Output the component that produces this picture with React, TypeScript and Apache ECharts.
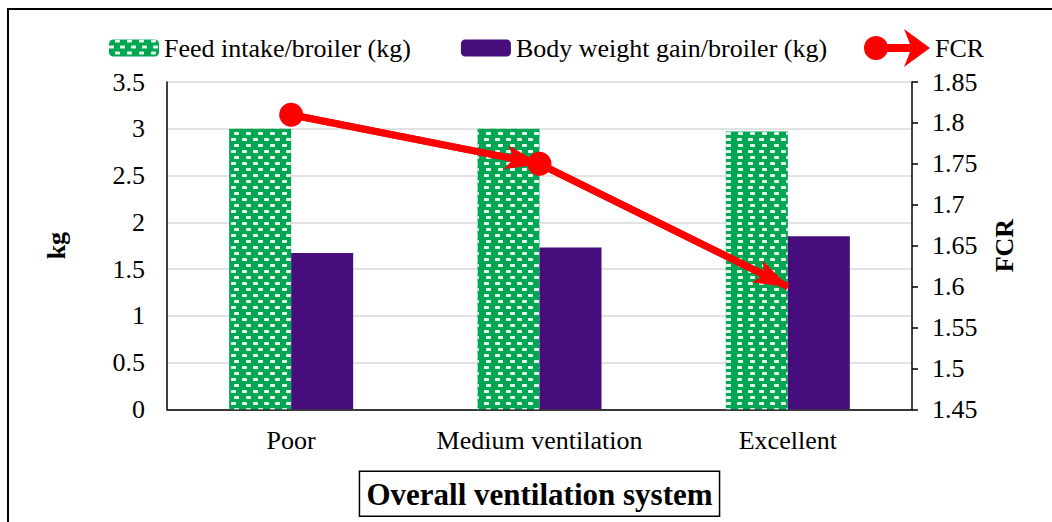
import React, { useEffect, useRef } from "react";
import * as echarts from "echarts";

const categories = ["Poor", "Medium ventilation", "Excellent"];
const feedIntake = [3.0, 3.0, 2.97];
const bodyWeightGain = [1.67, 1.73, 1.85];
const fcr = [1.81, 1.75, 1.6];

const seriesNames = ["Feed intake/broiler (kg)", "Body weight gain/broiler (kg)", "FCR"];
const axisTitles = { x: "Overall ventilation system", left: "kg", right: "FCR" };

const FONT = "Liberation Serif, Times New Roman, serif";
const RED = "#ff0000";
const GREEN = "#00a651";
const PURPLE = "#470d7d";

const arrowPath = "path://M15,0 L30,32 L15,25 L0,32 Z";
const fcrIcon =
  "path://M0,19 A12,12 0 1,1 24,19 A12,12 0 1,1 0,19 Z M12,15 L46,15 L40,0 L66,19 L40,38 L46,23 L12,23 Z";

export default function App() {
  const ref = useRef<HTMLDivElement>(null);

  useEffect(() => {
    if (!ref.current) return;
    const chart = echarts.init(ref.current, undefined, { renderer: "svg" });

    const segments = [];
    for (let i = 0; i < fcr.length - 1; i++) {
      segments.push([
        { coord: [i, fcr[i]] },
        { coord: [i + 1, fcr[i + 1]] },
      ]);
    }

    const labelStyle = { fontFamily: FONT, fontSize: 26, color: "#000" };

    chart.setOption({
      animation: false,
      backgroundColor: "#ffffff",
      textStyle: { fontFamily: FONT, color: "#000" },
      grid: { left: 167, right: 140, top: 82, bottom: 110, containLabel: false },
      legend: [
        {
          data: [seriesNames[0], seriesNames[1]],
          left: 109,
          top: 35,
          padding: 0,
          itemWidth: 50,
          itemHeight: 17,
          itemGap: 50,
          textStyle: labelStyle,
        },
        {
          data: [{ name: seriesNames[2], icon: fcrIcon }],
          left: 864,
          top: 29,
          padding: 0,
          itemWidth: 66,
          itemHeight: 38,
          textStyle: labelStyle,
        },
      ],
      xAxis: {
        type: "category",
        data: categories,
        axisLine: { show: true, lineStyle: { color: "#000", width: 1.5 } },
        axisTick: { show: false },
        axisLabel: { ...labelStyle, margin: 18, interval: 0 },
        name: axisTitles.x,
        nameLocation: "middle",
        nameGap: 62,
        nameTextStyle: {
          fontFamily: FONT,
          fontSize: 31,
          fontWeight: "bold",
          color: "#000",
          borderColor: "#000",
          borderWidth: 1.5,
          padding: [8, 7, 6, 7],
        },
      },
      yAxis: [
        {
          type: "value",
          min: 0,
          max: 3.5,
          interval: 0.5,
          axisLine: { show: true, lineStyle: { color: "#000", width: 1.5 } },
          axisTick: { show: false },
          splitLine: { show: true, lineStyle: { color: "#d9d9d9", width: 1.5 } },
          axisLabel: { ...labelStyle, margin: 22 },
          name: axisTitles.left,
          nameLocation: "middle",
          nameRotate: 90,
          nameGap: 98,
          nameTextStyle: { fontFamily: FONT, fontSize: 26, fontWeight: "bold", color: "#000" },
        },
        {
          type: "value",
          min: 1.45,
          max: 1.85,
          interval: 0.05,
          axisLine: { show: true, lineStyle: { color: "#000", width: 1.5 } },
          axisTick: { show: true, inside: false, length: 6, lineStyle: { color: "#000", width: 1.5 } },
          splitLine: { show: false },
          axisLabel: {
            ...labelStyle,
            margin: 20,
            formatter: (v: number) => String(Math.round(v * 100) / 100),
          },
          name: axisTitles.right,
          nameLocation: "middle",
          nameRotate: 90,
          nameGap: 79,
          nameTextStyle: { fontFamily: FONT, fontSize: 26, fontWeight: "bold", color: "#000" },
        },
      ],
      series: [
        {
          name: seriesNames[0],
          type: "bar",
          data: feedIntake,
          barWidth: 62,
          barGap: "0%",
          itemStyle: {
            color: GREEN,
            decal: {
              symbol: "roundRect",
              symbolSize: 1,
              color: "rgba(255,255,255,0.9)",
              dashArrayX: [[5, 6], [0, 5.5, 5, 0.5]],
              dashArrayY: [2.2, 3],
              rotation: 0,
            },
          },
        },
        {
          name: seriesNames[1],
          type: "bar",
          data: bodyWeightGain,
          barWidth: 62,
          barGap: "0%",
          itemStyle: { color: PURPLE },
        },
        {
          name: seriesNames[2],
          type: "line",
          yAxisIndex: 1,
          data: fcr,
          symbol: "none",
          itemStyle: { color: RED },
          lineStyle: { color: RED, width: 7 },
          z: 5,
          markLine: {
            silent: true,
            symbol: ["circle", arrowPath],
            symbolSize: [24, 36],
            symbolOffset: [[0, 0], [0, 16]],
            label: { show: false },
            lineStyle: { color: RED, width: 7, type: "solid" },
            itemStyle: { color: RED },
            emphasis: { disabled: true },
            data: segments,
          },
        },
      ],
      graphic: [
        { type: "line", shape: { x1: 8, y1: 9, x2: 8, y2: 522 }, style: { stroke: "#000", lineWidth: 2 } },
        { type: "line", shape: { x1: 7, y1: 9, x2: 1052, y2: 9 }, style: { stroke: "#000", lineWidth: 2 } },
      ],
    });

    return () => chart.dispose();
  }, []);

  return (
    <div
      ref={ref}
      style={{ position: "fixed", left: 0, top: 0, width: 1052, height: 522, background: "#fff" }}
    />
  );
}
